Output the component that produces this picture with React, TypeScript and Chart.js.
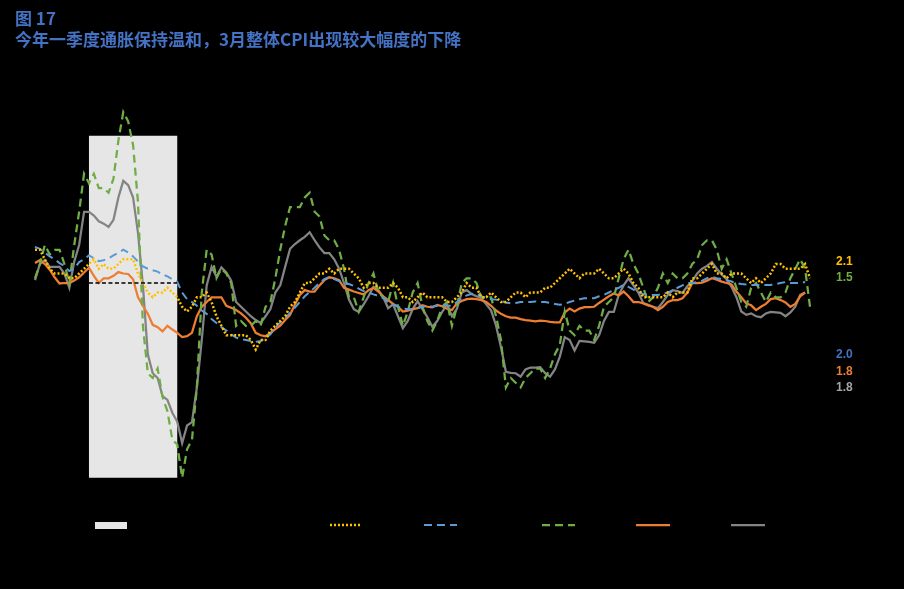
import React, { useEffect, useRef } from "react";
import { Chart, registerables } from "chart.js";

Chart.register(...registerables);

// ---------- categories (monthly, Jan 2007 – Mar 2020) ----------
const firstYear = 2007;
const lastYear = 2020;
const lastMonthOfLastYear = 3;
const months: string[] = [];
for (let y = firstYear; y <= lastYear; y++) {
  for (let m = 1; m <= 12; m++) {
    if (y === lastYear && m > lastMonthOfLastYear) break;
    months.push(`${y}-${String(m).padStart(2, "0")}`);
  }
}

// ---------- series (yoy, %) ----------
// 核心CPI
const coreCPI = [
  2.7, 2.7, 2.5, 2.3, 2.2, 2.2, 2.2, 2.1, 2.1, 2.2, 2.3, 2.4,
  2.5, 2.3, 2.4, 2.3, 2.3, 2.4, 2.5, 2.5, 2.5, 2.2, 2.0, 1.8,
  1.7, 1.8, 1.8, 1.9, 1.8, 1.7, 1.5, 1.4, 1.5, 1.7, 1.7, 1.8,
  1.6, 1.3, 1.1, 0.9, 0.9, 0.9, 0.9, 0.9, 0.8, 0.6, 0.8, 0.8,
  1.0, 1.1, 1.2, 1.3, 1.5, 1.6, 1.8, 2.0, 2.0, 2.1, 2.2, 2.2,
  2.3, 2.2, 2.3, 2.3, 2.3, 2.2, 2.1, 1.9, 2.0, 2.0, 1.9, 1.9,
  1.9, 2.0, 1.9, 1.7, 1.7, 1.6, 1.7, 1.8, 1.7, 1.7, 1.7, 1.7,
  1.6, 1.6, 1.7, 1.8, 2.0, 1.9, 1.9, 1.7, 1.7, 1.8, 1.7, 1.6,
  1.6, 1.7, 1.8, 1.8, 1.7, 1.8, 1.8, 1.8, 1.9, 1.9, 2.0, 2.1,
  2.2, 2.3, 2.2, 2.1, 2.2, 2.2, 2.2, 2.3, 2.2, 2.1, 2.1, 2.2,
  2.3, 2.2, 2.0, 1.9, 1.7, 1.7, 1.7, 1.7, 1.7, 1.8, 1.7, 1.8,
  1.8, 1.8, 2.1, 2.1, 2.2, 2.3, 2.4, 2.2, 2.2, 2.1, 2.2, 2.2,
  2.2, 2.1, 2.0, 2.1, 2.0, 2.1, 2.2, 2.4, 2.4, 2.3, 2.3, 2.3,
  2.3, 2.4, 2.1,
];

// 截尾均值PCE
const trimmedPCE = [
  2.76, 2.72, 2.64, 2.56, 2.5, 2.42, 2.36, 2.25, 2.3, 2.44, 2.5, 2.58,
  2.52, 2.46, 2.48, 2.52, 2.58, 2.64, 2.7, 2.64, 2.56, 2.45, 2.35, 2.3,
  2.27, 2.24, 2.18, 2.14, 2.08, 2.02, 1.8, 1.66, 1.6, 1.52, 1.42, 1.35,
  1.24, 1.16, 1.07, 1.0, 0.92, 0.85, 0.82, 0.8, 0.78, 0.76, 0.78, 0.84,
  0.92, 1.06, 1.17, 1.26, 1.37, 1.48, 1.6, 1.72, 1.81, 1.9, 2.0, 2.08,
  2.13, 2.08, 2.04, 2.0, 1.98, 1.94, 1.88, 1.83, 1.8, 1.76, 1.73, 1.68,
  1.6, 1.55, 1.5, 1.46, 1.45, 1.45, 1.47, 1.5, 1.52, 1.5, 1.52, 1.55,
  1.52, 1.52, 1.6, 1.68, 1.74, 1.77, 1.78, 1.72, 1.68, 1.66, 1.65, 1.62,
  1.59, 1.57, 1.58, 1.6, 1.6, 1.6, 1.61, 1.6, 1.6, 1.58, 1.56, 1.54,
  1.56, 1.6, 1.63, 1.66, 1.68, 1.68, 1.68, 1.72, 1.75, 1.8, 1.85, 1.9,
  1.96, 1.92, 1.86, 1.8, 1.77, 1.75, 1.75, 1.75, 1.77, 1.8, 1.84, 1.9,
  1.95, 2.0, 2.0, 2.02, 2.05, 2.1, 2.13, 2.1, 2.08, 2.06, 2.03, 2.0,
  1.98, 1.97, 1.96, 1.96, 1.96, 1.96, 1.96, 1.98, 2.0, 2.02, 2.0, 2.0,
  2.0, 2.02, null,
];

// 整体CPI
const headlineCPI = [
  2.1, 2.4, 2.8, 2.6, 2.7, 2.7, 2.4, 2.0, 2.8, 3.5, 4.3, 4.1,
  4.3, 4.0, 4.0, 3.9, 4.2, 5.0, 5.6, 5.4, 4.9, 3.7, 1.1, 0.1,
  0.0, 0.2, -0.4, -0.7, -1.3, -1.4, -2.1, -1.5, -1.3, -0.2, 1.8, 2.7,
  2.6, 2.1, 2.3, 2.2, 2.0, 1.1, 1.2, 1.1, 1.1, 1.2, 1.1, 1.5,
  1.6, 2.1, 2.7, 3.2, 3.6, 3.6, 3.6, 3.8, 3.9, 3.5, 3.4, 3.0,
  2.9, 2.9, 2.7, 2.3, 1.7, 1.7, 1.4, 1.7, 2.0, 2.2, 1.8, 1.7,
  1.6, 2.0, 1.5, 1.1, 1.4, 1.8, 2.0, 1.5, 1.2, 1.0, 1.2, 1.5,
  1.6, 1.1, 1.5, 2.0, 2.1, 2.1, 2.0, 1.7, 1.7, 1.7, 1.3, 0.8,
  -0.2, 0.0, -0.1, -0.2, 0.0, 0.1, 0.2, 0.2, 0.0, 0.2, 0.5, 0.7,
  1.4, 1.0, 0.9, 1.1, 1.0, 1.0, 0.8, 1.1, 1.5, 1.6, 1.7, 2.1,
  2.5, 2.7, 2.4, 2.2, 1.9, 1.6, 1.7, 1.9, 2.2, 2.0, 2.2, 2.1,
  2.1, 2.2, 2.4, 2.5, 2.8, 2.9, 2.9, 2.7, 2.3, 2.5, 2.2, 1.9,
  1.6, 1.5, 1.9, 2.0, 1.8, 1.6, 1.8, 1.7, 1.7, 1.8, 2.1, 2.3,
  2.5, 2.3, 1.5,
];

// 核心PCE
const corePCE = [
  2.42, 2.48, 2.4, 2.28, 2.12, 1.99, 2.0, 2.0, 2.05, 2.12, 2.22, 2.32,
  2.15, 2.0, 2.1, 2.1, 2.15, 2.23, 2.2, 2.19, 2.08, 1.7, 1.52, 1.35,
  1.12, 1.07, 0.98, 1.1, 1.02, 0.95, 0.86, 0.88, 0.95, 1.3, 1.5, 1.6,
  1.7, 1.7, 1.7, 1.52, 1.48, 1.43, 1.36, 1.27, 1.15, 0.95, 0.9, 0.88,
  0.95, 1.03, 1.1, 1.22, 1.33, 1.55, 1.75, 1.85, 1.82, 1.82, 1.95, 2.06,
  2.12, 2.1, 2.06, 1.9, 1.86, 1.82, 1.79, 1.76, 1.85, 1.9, 1.82, 1.72,
  1.64, 1.56, 1.5, 1.4, 1.42, 1.45, 1.47, 1.53, 1.5, 1.49, 1.54, 1.51,
  1.46, 1.43, 1.57, 1.62, 1.66, 1.67, 1.66, 1.64, 1.6, 1.52, 1.42, 1.35,
  1.3, 1.27, 1.27, 1.24, 1.22, 1.21, 1.19, 1.21, 1.2, 1.18, 1.17, 1.17,
  1.38, 1.46, 1.4, 1.46, 1.49, 1.49, 1.5, 1.58, 1.65, 1.72, 1.78, 1.74,
  1.82, 1.72, 1.6, 1.6, 1.57, 1.53, 1.5, 1.43, 1.5, 1.6, 1.64, 1.64,
  1.68, 1.8, 2.0, 2.0, 2.01, 2.05, 2.1, 2.07, 2.03, 2.0, 1.97, 1.82,
  1.7, 1.57, 1.53, 1.43, 1.5, 1.56, 1.66, 1.68, 1.64, 1.59, 1.5, 1.56,
  1.72, 1.8, null,
];

// 整体PCE
const headlinePCE = [
  2.06, 2.4, 2.48, 2.34, 2.34, 2.34, 2.2, 1.9, 2.45, 2.8, 3.5, 3.5,
  3.42, 3.3, 3.25, 3.18, 3.33, 3.8, 4.15, 4.06, 3.8, 3.05, 1.95, 0.5,
  0.1, 0.0, -0.38, -0.46, -0.73, -0.92, -1.37, -1.0, -0.93, -0.2, 0.8, 1.95,
  2.34, 2.13, 2.33, 2.22, 2.05, 1.6, 1.5, 1.4, 1.3, 1.22, 1.16, 1.3,
  1.45, 1.8, 1.95, 2.34, 2.72, 2.82, 2.9, 2.97, 3.07, 2.9, 2.75, 2.63,
  2.63, 2.5, 2.3, 2.0, 1.65, 1.45, 1.39, 1.55, 1.72, 1.92, 1.85, 1.7,
  1.47, 1.55, 1.3, 1.05, 1.2, 1.45, 1.62, 1.45, 1.28, 1.08, 1.2, 1.39,
  1.55, 1.3, 1.45, 1.8, 1.85, 1.77, 1.72, 1.68, 1.55, 1.42, 1.1, 0.65,
  0.13, 0.11, 0.1, 0.03, 0.18, 0.22, 0.22, 0.23, 0.1, 0.03, 0.18, 0.45,
  0.86, 0.8, 0.58, 0.78, 0.77, 0.76, 0.74, 0.9, 1.2, 1.39, 1.39, 1.75,
  1.95, 2.1, 1.95, 1.8, 1.58, 1.54, 1.5, 1.47, 1.6, 1.75, 1.85, 1.83,
  1.79, 1.93, 2.04, 2.2, 2.3, 2.36, 2.44, 2.3, 2.18, 2.08, 1.92, 1.7,
  1.4, 1.33, 1.36, 1.3, 1.28, 1.36, 1.39, 1.38, 1.37, 1.3, 1.38, 1.5,
  1.75, 1.8, null,
];

// recession shading & Fed target
const recessionStart = "2007-12";
const recessionEnd = "2009-06";
const shadeTop = 5.1;
const shadeBottom = -2.1;
const fedTarget = 2.0;

// y-axis
const yMin = -2.5;
const yMax = 6.5;
const yStep = 1;

// texts
const figureNo = "图 17";
const titleText = "今年一季度通胀保持温和，3月整体CPI出现较大幅度的下降";
const recessionLabel = "美国经济衰退期";
const seriesLabels = ["核心CPI", "截尾均值PCE", "整体CPI", "核心PCE", "整体PCE"];

const COLORS = {
  yellow: "#FFC000",
  blue: "#5B9BD5",
  green: "#70AD47",
  orange: "#ED7D31",
  grey: "#848484",
  shade: "#E7E6E6",
  title: "#4472C4",
};

// end-value label styling (colour and vertical placement in the right margin)
const endLabels = [
  { ds: 0, color: "#FFC000", y: 262 },
  { ds: 2, color: "#70AD47", y: 278 },
  { ds: 1, color: "#4472C4", y: 355 },
  { ds: 3, color: "#ED7D31", y: 372 },
  { ds: 4, color: "#A5A5A5", y: 388 },
];

// legend layout
const legendY = 525;
const legendItems = [
  { kind: "box", x0: 95, x1: 127 },
  { kind: "line", ds: 0, x0: 330, x1: 361 },
  { kind: "line", ds: 1, x0: 424, x1: 457 },
  { kind: "line", ds: 2, x0: 542, x1: 575 },
  { kind: "line", ds: 3, x0: 636, x1: 670 },
  { kind: "line", ds: 4, x0: 731, x1: 765 },
];

function lastValue(arr: (number | null)[]): number {
  for (let i = arr.length - 1; i >= 0; i--) if (arr[i] !== null) return arr[i] as number;
  return NaN;
}

const decorPlugin = {
  id: "decor",
  beforeDatasetsDraw(chart: any) {
    const { ctx, scales } = chart;
    const xs = scales.x;
    const ys = scales.y;
    const i0 = months.indexOf(recessionStart);
    const i1 = months.indexOf(recessionEnd);
    const x0 = xs.getPixelForValue(i0);
    const x1 = xs.getPixelForValue(i1);
    const yT = ys.getPixelForValue(shadeTop);
    const yB = ys.getPixelForValue(shadeBottom);
    ctx.save();
    ctx.fillStyle = COLORS.shade;
    ctx.fillRect(x0, yT, x1 - x0, yB - yT);
    ctx.restore();
  },
  afterDatasetsDraw(chart: any) {
    const { ctx, scales } = chart;
    const xs = scales.x;
    const ys = scales.y;
    const i0 = months.indexOf(recessionStart);
    const i1 = months.indexOf(recessionEnd);
    const yt = ys.getPixelForValue(fedTarget);
    ctx.save();
    ctx.strokeStyle = "#000000";
    ctx.lineWidth = 1.5;
    ctx.setLineDash([4, 2.5]);
    ctx.beginPath();
    ctx.moveTo(xs.getPixelForValue(i0), yt);
    ctx.lineTo(xs.getPixelForValue(i1), yt);
    ctx.stroke();
    ctx.restore();
  },
  afterDraw(chart: any) {
    const { ctx } = chart;
    const dsets = chart.data.datasets;
    ctx.save();
    // end-value labels
    ctx.font = "bold 12px 'Liberation Sans', Arial, sans-serif";
    ctx.textBaseline = "middle";
    ctx.textAlign = "left";
    endLabels.forEach((l) => {
      ctx.fillStyle = l.color;
      ctx.fillText(lastValue(dsets[l.ds].data).toFixed(1), 836, l.y);
    });
    // legend
    legendItems.forEach((it: any) => {
      let label = recessionLabel;
      if (it.kind === "box") {
        ctx.fillStyle = COLORS.shade;
        ctx.fillRect(it.x0, legendY - 3, it.x1 - it.x0, 7);
      } else {
        const d = dsets[it.ds];
        label = d.label;
        ctx.strokeStyle = d.borderColor;
        ctx.lineWidth = d.borderWidth;
        ctx.setLineDash(d.borderDash || []);
        ctx.beginPath();
        ctx.moveTo(it.x0, legendY);
        ctx.lineTo(it.x1, legendY);
        ctx.stroke();
        ctx.setLineDash([]);
      }
      ctx.fillStyle = "#000000";
      ctx.font = "12px 'Noto Sans CJK SC', sans-serif";
      ctx.fillText(label, it.x1 + 5, legendY);
    });
    ctx.restore();
  },
};

export default function App() {
  const canvasRef = useRef<HTMLCanvasElement | null>(null);

  useEffect(() => {
    if (!canvasRef.current) return;
    const mk = (label: string, data: (number | null)[], color: string, width: number, dash: number[]) => ({
      type: "line" as const,
      label,
      data,
      borderColor: color,
      backgroundColor: color,
      borderWidth: width,
      borderDash: dash,
      pointRadius: 0,
      tension: 0,
      fill: false,
      spanGaps: false,
    });
    const chart = new Chart(canvasRef.current, {
      type: "line",
      data: {
        labels: months,
        datasets: [
          mk(seriesLabels[0], coreCPI, COLORS.yellow, 2.5, [2, 2]),
          mk(seriesLabels[1], trimmedPCE, COLORS.blue, 2, [8, 5]),
          mk(seriesLabels[2], headlineCPI, COLORS.green, 2.25, [8, 5]),
          mk(seriesLabels[3], corePCE, COLORS.orange, 2.25, []),
          mk(seriesLabels[4], headlinePCE, COLORS.grey, 2.25, []),
        ],
      },
      options: {
        animation: false,
        responsive: false,
        maintainAspectRatio: false,
        events: [],
        layout: { padding: { top: 69.25, right: 94, left: 0, bottom: 0 } },
        plugins: {
          legend: { display: false },
          title: { display: false },
          tooltip: { enabled: false },
        },
        scales: {
          x: {
            type: "category",
            offset: false,
            grid: { display: false },
            border: { display: false },
            ticks: {
              color: "#000000",
              autoSkip: false,
              maxRotation: 0,
              font: { size: 11 },
              callback: (_v: any, i: number) => (months[i].endsWith("-01") ? months[i].slice(0, 4) : ""),
            },
            afterFit: (s: any) => {
              s.height = 92.25;
            },
          },
          y: {
            min: yMin,
            max: yMax,
            grid: { display: false },
            border: { display: false },
            ticks: { color: "#000000", stepSize: yStep, font: { size: 11 } },
            afterFit: (s: any) => {
              s.width = 35;
            },
          },
        },
      },
      plugins: [decorPlugin],
    } as any);
    return () => chart.destroy();
  }, []);

  const titleStyle: React.CSSProperties = {
    position: "absolute",
    left: 15,
    margin: 0,
    color: COLORS.title,
    fontFamily: "'Noto Sans CJK SC', sans-serif",
    fontWeight: 700,
    fontSize: 17,
    lineHeight: "20px",
    whiteSpace: "nowrap",
  };

  return (
    <div style={{ position: "fixed", left: 0, top: 0, width: 904, height: 589, background: "#000000", overflow: "hidden" }}>
      <canvas ref={canvasRef} width={904} height={589} style={{ position: "absolute", left: 0, top: 0, display: "block" }} />
      <div style={{ ...titleStyle, top: 8 }}>{figureNo}</div>
      <div style={{ ...titleStyle, top: 29 }}>{titleText}</div>
    </div>
  );
}
